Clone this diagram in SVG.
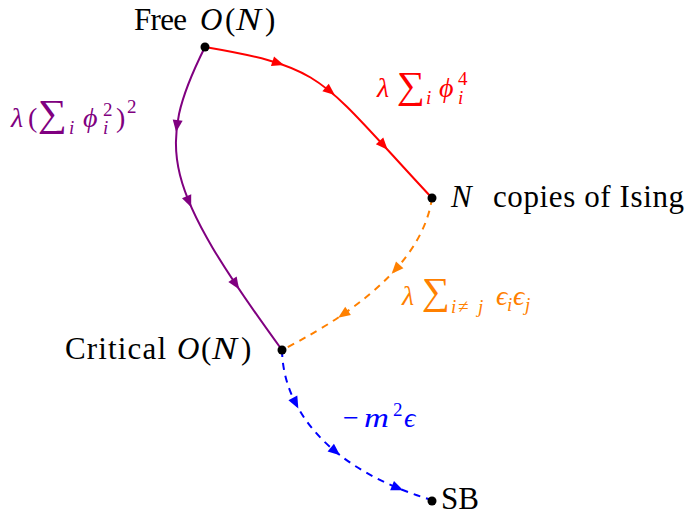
<svg xmlns="http://www.w3.org/2000/svg" xmlns:xlink="http://www.w3.org/1999/xlink" width="686" height="515" viewBox="0 0 686 515">
<style>
.lbl{font-family:"Liberation Serif","DejaVu Serif",serif;font-size:31px;fill:#000}
.m{font-family:"Liberation Serif","DejaVu Serif",serif;font-size:28px}
.it{font-style:italic}
.sc{font-size:19px}
.sum{font-family:"Liberation Serif","DejaVu Serif",serif;font-size:38px}
.edge{fill:none;stroke-width:2}
.dash{stroke-dasharray:7 6}
</style>
<defs>
<path id="ah" d="M6,0 L-6,-5 L-6,5 Z"/>
</defs>
<g id="connectors">
<g id="e-free-ising">
<path class="edge" stroke="#ff0000" d="M205,47 C327,68 319,77 432,198"/>
<use xlink:href="#ah" fill="#ff0000" transform="translate(278.2,63.2) rotate(18)"/>
<use xlink:href="#ah" fill="#ff0000" transform="translate(330.2,91.3) rotate(39.5)"/>
<use xlink:href="#ah" fill="#ff0000" transform="translate(383.6,145.3) rotate(47.6)"/>
</g>
<g id="e-free-critical">
<path class="edge" stroke="#800080" d="M205,47 C154.6,147.9 163,186.6 282,350"/>
<use xlink:href="#ah" fill="#800080" transform="translate(176.9,126.1) rotate(97.4)"/>
<use xlink:href="#ah" fill="#800080" transform="translate(188.9,201.8) rotate(67.5)"/>
<use xlink:href="#ah" fill="#800080" transform="translate(235.8,284.3) rotate(56.3)"/>
</g>
<g id="e-ising-critical">
<path class="edge dash" stroke="#ff8000" d="M432,198 Q420,280 282,350"/>
<use xlink:href="#ah" fill="#ff8000" transform="translate(395.7,269.4) rotate(131.9)"/>
<use xlink:href="#ah" fill="#ff8000" transform="translate(343.1,314.3) rotate(145.6)"/>
</g>
<g id="e-critical-sb">
<path class="edge dash" stroke="#0000ff" d="M282,350 C283,410 330,470 432,500"/>
<use xlink:href="#ah" fill="#0000ff" transform="translate(295.6,403.2) rotate(62.8)"/>
<use xlink:href="#ah" fill="#0000ff" transform="translate(335.4,451.5) rotate(39.6)"/>
<use xlink:href="#ah" fill="#0000ff" transform="translate(397.6,487.9) rotate(22.5)"/>
</g>
<g id="edge-labels">
<g fill="#ff0000">
<text class="m"><tspan class="it" x="377" y="97">λ</tspan><tspan class="it sc" x="426" y="104">i</tspan><tspan class="it" x="439" y="97">ϕ</tspan><tspan class="sc" x="458" y="85">4</tspan><tspan class="it sc" x="458" y="104">i</tspan></text>
<text class="sum" x="397" y="98" textLength="28" lengthAdjust="spacingAndGlyphs">∑</text>
</g>
<g fill="#800080">
<text class="m"><tspan class="it" x="11" y="127">λ</tspan><tspan x="28" y="127">(</tspan><tspan class="it sc" x="69" y="134">i</tspan><tspan class="it" x="83" y="127">ϕ</tspan><tspan class="sc" x="103" y="116">2</tspan><tspan class="it sc" x="103" y="134">i</tspan><tspan x="116" y="127">)</tspan><tspan class="sc" x="127" y="113">2</tspan></text>
<text class="sum" x="38" y="126" textLength="29" lengthAdjust="spacingAndGlyphs">∑</text>
</g>
<g fill="#ff8000">
<text class="m"><tspan class="it" x="402" y="305">λ</tspan><tspan class="it sc" x="451" y="313">i</tspan><tspan class="sc" x="458" y="313">≠</tspan><tspan class="it sc" x="478" y="313">j</tspan><tspan class="it" x="496" y="305">ϵ</tspan><tspan class="it sc" x="507" y="311">i</tspan><tspan class="it" x="513" y="305">ϵ</tspan><tspan class="it sc" x="525" y="311">j</tspan></text>
<text class="sum" x="422" y="304" textLength="28" lengthAdjust="spacingAndGlyphs">∑</text>
</g>
<g fill="#0000ff">
<text class="m"><tspan x="343" y="427">−</tspan><tspan class="sc" x="393" y="416">2</tspan><tspan class="it" x="404" y="427">ϵ</tspan></text>
<text class="m it" x="364" y="427" textLength="25" lengthAdjust="spacingAndGlyphs">m</text>
</g>
</g>
</g>
<g id="free">
<circle cx="205" cy="47" r="4.5" fill="#000"/>
<text class="lbl"><tspan x="134" y="30" textLength="53">Free</tspan><tspan class="it" x="200" y="30">O</tspan><tspan x="225" y="30">(</tspan><tspan x="265" y="30">)</tspan></text>
<text class="lbl it" x="236" y="30" textLength="25" lengthAdjust="spacingAndGlyphs">N</text>
</g>
<g id="ising">
<circle cx="432" cy="198" r="4.5" fill="#000"/>
<text class="lbl it" x="451" y="207">N</text>
<text class="lbl" x="493" y="207" textLength="191">copies of Ising</text>
</g>
<g id="critical">
<circle cx="282" cy="350" r="4.5" fill="#000"/>
<text class="lbl"><tspan x="65" y="359" textLength="101">Critical</tspan><tspan class="it" x="177" y="359">O</tspan><tspan x="201" y="359">(</tspan><tspan x="241" y="359">)</tspan></text>
<text class="lbl it" x="212" y="359" textLength="25" lengthAdjust="spacingAndGlyphs">N</text>
</g>
<g id="sb">
<circle cx="432" cy="501" r="4.5" fill="#000"/>
<text class="lbl" x="441" y="509">SB</text>
</g>
</svg>
